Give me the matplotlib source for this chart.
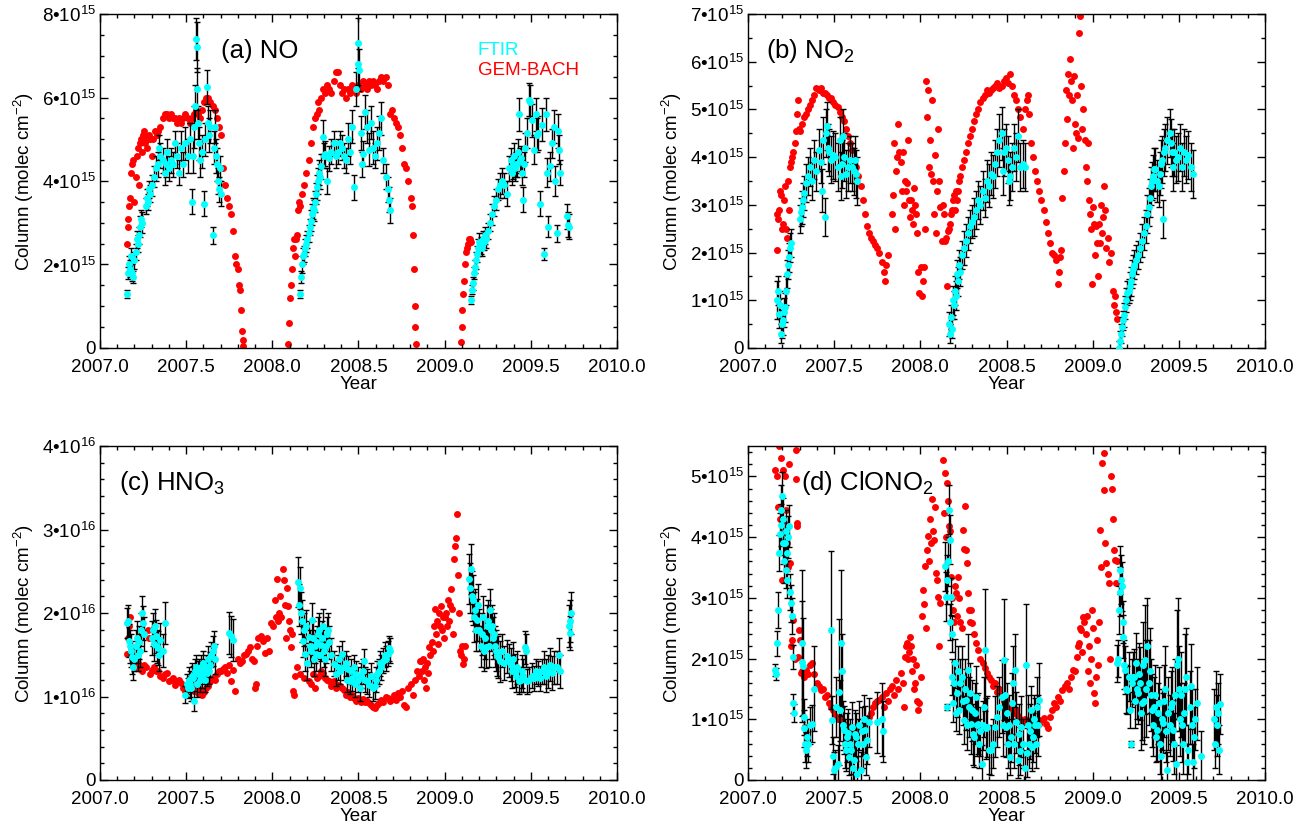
import matplotlib
matplotlib.use('Agg')
import matplotlib.pyplot as plt
from matplotlib.ticker import MultipleLocator, FuncFormatter, FormatStrFormatter

# ---------------- data (years, column values) ----------------
# (a) NO, units 1e15 molec cm-2
a_gem = [
    (2007.157, 2.5), (2007.160, 2.9), (2007.163, 3.1), (2007.169, 3.4), (2007.175, 3.6), (2007.181, 4.2),
    (2007.187, 4.4), (2007.194, 4.5), (2007.200, 3.5), (2007.206, 4.1), (2007.212, 4.6), (2007.218, 4.8),
    (2007.224, 3.9), (2007.230, 4.9), (2007.236, 5.0), (2007.242, 4.7), (2007.248, 5.1), (2007.254, 5.2),
    (2007.260, 4.9), (2007.266, 5.0), (2007.272, 4.8), (2007.278, 5.0), (2007.284, 5.1), (2007.290, 5.0),
    (2007.300, 4.6), (2007.310, 5.0), (2007.320, 5.2), (2007.330, 5.1), (2007.339, 5.2), (2007.350, 5.3),
    (2007.363, 5.5), (2007.375, 5.6), (2007.387, 5.6), (2007.399, 5.5), (2007.411, 5.6), (2007.423, 5.5),
    (2007.436, 5.5), (2007.448, 5.4), (2007.460, 5.5), (2007.472, 5.4), (2007.484, 5.5), (2007.496, 5.6),
    (2007.508, 5.5), (2007.520, 5.4), (2007.532, 5.5), (2007.544, 5.6), (2007.556, 5.7), (2007.569, 5.6),
    (2007.581, 5.5), (2007.593, 5.7), (2007.605, 5.9), (2007.617, 6.0), (2007.629, 6.0), (2007.641, 5.9),
    (2007.653, 5.8), (2007.665, 5.7), (2007.677, 5.5), (2007.690, 5.3), (2007.702, 5.1), (2007.714, 4.3),
    (2007.726, 3.9), (2007.738, 3.6), (2007.750, 3.4), (2007.762, 3.2), (2007.774, 2.8), (2007.786, 2.2),
    (2007.792, 2.0), (2007.798, 1.9), (2007.805, 1.5), (2007.811, 1.4), (2007.817, 0.9), (2007.823, 0.4),
    (2007.828, 0.2), (2007.832, 0.05),
    (2008.089, 0.1), (2008.095, 0.6), (2008.101, 1.2), (2008.107, 1.5), (2008.113, 1.9), (2008.119, 2.4),
    (2008.125, 2.6), (2008.131, 2.2), (2008.137, 2.6), (2008.143, 2.7), (2008.149, 3.3), (2008.155, 3.5),
    (2008.161, 3.4), (2008.173, 3.7), (2008.186, 3.9), (2008.198, 4.2), (2008.210, 4.5), (2008.222, 4.9),
    (2008.234, 5.3), (2008.246, 5.5), (2008.258, 5.6), (2008.264, 5.9), (2008.270, 5.7), (2008.282, 6.0),
    (2008.294, 6.2), (2008.307, 6.1), (2008.319, 6.3), (2008.331, 6.2), (2008.343, 6.1), (2008.355, 6.4),
    (2008.367, 6.6), (2008.379, 6.6), (2008.391, 6.3), (2008.403, 6.1), (2008.415, 6.2), (2008.428, 6.0),
    (2008.440, 6.2), (2008.452, 6.1), (2008.464, 6.3), (2008.476, 6.2), (2008.488, 6.1), (2008.500, 6.3),
    (2008.512, 6.2), (2008.524, 6.4), (2008.536, 6.3), (2008.549, 6.2), (2008.561, 6.4), (2008.573, 6.3),
    (2008.585, 6.4), (2008.597, 6.3), (2008.609, 6.2), (2008.621, 6.4), (2008.633, 6.5), (2008.645, 6.4),
    (2008.657, 6.5), (2008.669, 6.3), (2008.682, 5.6), (2008.694, 5.7), (2008.706, 5.5), (2008.718, 5.4),
    (2008.730, 5.3), (2008.742, 5.1), (2008.754, 4.8), (2008.766, 4.4), (2008.778, 4.3), (2008.790, 4.0),
    (2008.803, 3.6), (2008.809, 3.4), (2008.815, 2.7), (2008.820, 1.9), (2008.825, 1.0), (2008.830, 0.5),
    (2008.836, 0.1),
    (2009.093, 0.15), (2009.098, 0.5), (2009.103, 0.9), (2009.108, 1.3), (2009.113, 1.6), (2009.118, 2.0),
    (2009.123, 2.3), (2009.128, 2.4), (2009.133, 2.5), (2009.140, 2.6), (2009.146, 2.6), (2009.153, 2.55),
]
a_ftir = [
    (2007.157, 1.3, 0.1), (2007.163, 1.8, 0.15), (2007.169, 2.0, 0.2), (2007.175, 1.9, 0.2), (2007.181, 2.2, 0.2),
    (2007.187, 1.8, 0.2), (2007.194, 1.7, 0.15), (2007.200, 2.1, 0.2), (2007.206, 2.3, 0.2), (2007.212, 2.6, 0.2),
    (2007.218, 2.5, 0.2), (2007.224, 2.7, 0.2), (2007.230, 2.9, 0.25), (2007.236, 3.1, 0.2), (2007.242, 3.0, 0.25),
    (2007.266, 3.4, 0.2), (2007.272, 3.6, 0.2), (2007.278, 3.5, 0.2), (2007.284, 3.8, 0.2), (2007.290, 3.7, 0.2),
    (2007.302, 3.9, 0.25), (2007.315, 4.1, 0.25), (2007.327, 4.3, 0.3), (2007.339, 4.4, 0.3), (2007.345, 4.8, 0.3),
    (2007.351, 4.6, 0.3), (2007.363, 4.5, 0.3), (2007.375, 4.2, 0.3), (2007.381, 4.4, 0.3), (2007.387, 4.7, 0.3),
    (2007.399, 4.3, 0.3), (2007.411, 4.5, 0.3), (2007.423, 4.4, 0.3), (2007.436, 4.9, 0.3), (2007.448, 4.6, 0.3),
    (2007.460, 4.2, 0.3), (2007.472, 4.8, 0.4), (2007.484, 4.4, 0.3), (2007.496, 4.9, 0.4), (2007.508, 4.6, 0.4),
    (2007.520, 5.0, 0.4), (2007.532, 3.5, 0.3), (2007.538, 4.6, 0.4), (2007.544, 5.3, 0.5), (2007.550, 5.8, 0.5),
    (2007.556, 7.4, 0.5), (2007.560, 7.2, 0.6), (2007.564, 6.2, 0.5), (2007.569, 5.4, 0.4), (2007.575, 4.9, 0.4),
    (2007.581, 4.5, 0.4), (2007.593, 4.7, 0.4), (2007.605, 3.45, 0.3), (2007.611, 5.0, 0.4), (2007.622, 6.25, 0.4),
    (2007.629, 5.4, 0.4), (2007.635, 5.1, 0.4), (2007.641, 5.3, 0.4), (2007.653, 2.7, 0.2), (2007.659, 4.8, 0.4),
    (2007.665, 5.3, 0.4), (2007.671, 4.6, 0.4), (2007.677, 4.4, 0.4), (2007.683, 4.0, 0.3), (2007.690, 3.8, 0.3),
    (2007.696, 4.3, 0.3), (2007.702, 3.7, 0.3),
    (2008.161, 1.3, 0.1), (2008.166, 1.7, 0.15), (2008.173, 2.0, 0.2), (2008.180, 2.2, 0.2), (2008.186, 2.25, 0.2),
    (2008.192, 2.4, 0.2), (2008.198, 2.5, 0.2), (2008.204, 2.6, 0.2), (2008.210, 2.75, 0.2), (2008.216, 2.9, 0.2),
    (2008.222, 3.05, 0.25), (2008.228, 3.2, 0.25), (2008.234, 3.35, 0.25), (2008.240, 3.3, 0.25), (2008.246, 3.5, 0.25),
    (2008.252, 3.7, 0.25), (2008.258, 3.85, 0.3), (2008.264, 4.0, 0.3), (2008.270, 4.2, 0.3), (2008.276, 4.1, 0.3),
    (2008.282, 4.35, 0.3), (2008.294, 5.05, 0.4), (2008.300, 4.6, 0.3), (2008.307, 4.65, 0.3), (2008.319, 4.0, 0.3),
    (2008.331, 4.55, 0.3), (2008.343, 4.7, 0.3), (2008.355, 4.9, 0.3), (2008.367, 4.6, 0.3), (2008.379, 4.7, 0.3),
    (2008.391, 4.9, 0.3), (2008.403, 4.8, 0.3), (2008.415, 4.6, 0.3), (2008.428, 4.5, 0.3), (2008.440, 5.0, 0.4),
    (2008.452, 4.7, 0.3), (2008.464, 5.3, 0.4), (2008.476, 3.85, 0.3), (2008.488, 6.2, 0.4), (2008.495, 6.8, 0.5),
    (2008.500, 7.3, 0.6), (2008.505, 6.65, 0.5), (2008.512, 5.15, 0.4), (2008.518, 4.4, 0.3), (2008.524, 4.65, 0.3),
    (2008.536, 5.65, 0.4), (2008.549, 5.3, 0.4), (2008.561, 4.75, 0.4), (2008.573, 5.4, 0.4), (2008.585, 4.8, 0.4),
    (2008.597, 4.6, 0.3), (2008.609, 4.9, 0.4), (2008.621, 5.15, 0.4), (2008.633, 5.5, 0.4), (2008.645, 4.5, 0.3),
    (2008.657, 4.1, 0.3), (2008.669, 3.8, 0.3), (2008.676, 3.55, 0.3), (2008.682, 3.3, 0.3),
    (2009.153, 1.15, 0.1), (2009.159, 1.4, 0.1), (2009.165, 1.55, 0.15), (2009.171, 1.8, 0.15), (2009.178, 1.95, 0.15),
    (2009.184, 2.1, 0.2), (2009.190, 2.25, 0.2), (2009.196, 2.4, 0.2), (2009.202, 2.55, 0.2), (2009.208, 2.45, 0.2),
    (2009.214, 2.4, 0.2), (2009.220, 2.6, 0.2), (2009.226, 2.55, 0.2), (2009.232, 2.7, 0.2), (2009.238, 2.6, 0.2),
    (2009.250, 2.8, 0.2), (2009.262, 3.0, 0.2), (2009.274, 3.2, 0.25), (2009.286, 3.4, 0.25), (2009.299, 3.55, 0.25),
    (2009.311, 3.8, 0.25), (2009.323, 3.9, 0.3), (2009.335, 4.0, 0.3), (2009.347, 3.9, 0.3), (2009.359, 3.7, 0.3),
    (2009.371, 4.3, 0.3), (2009.383, 4.5, 0.3), (2009.389, 4.2, 0.3), (2009.395, 4.35, 0.3), (2009.401, 4.6, 0.3),
    (2009.408, 4.3, 0.3), (2009.414, 4.4, 0.3), (2009.420, 4.4, 0.3), (2009.426, 4.7, 0.3), (2009.432, 5.6, 0.4),
    (2009.438, 4.5, 0.3), (2009.444, 4.55, 0.3), (2009.450, 4.2, 0.3), (2009.456, 3.55, 0.3), (2009.462, 4.4, 0.3),
    (2009.468, 4.8, 0.35), (2009.480, 5.15, 0.35), (2009.492, 5.95, 0.4), (2009.498, 5.9, 0.4), (2009.504, 5.45, 0.4),
    (2009.516, 4.75, 0.35), (2009.528, 5.6, 0.4), (2009.534, 5.1, 0.4), (2009.540, 5.15, 0.4), (2009.553, 3.45, 0.3),
    (2009.565, 5.35, 0.4), (2009.577, 2.25, 0.15), (2009.589, 5.6, 0.4), (2009.595, 4.2, 0.35), (2009.601, 2.9, 0.25),
    (2009.613, 4.35, 0.35), (2009.625, 4.9, 0.35), (2009.637, 5.3, 0.4), (2009.643, 4.0, 0.35), (2009.649, 2.75, 0.2),
    (2009.655, 5.2, 0.4), (2009.661, 4.75, 0.35), (2009.667, 4.2, 0.3), (2009.710, 3.15, 0.3), (2009.716, 2.95, 0.3),
    (2009.722, 2.9, 0.3),
]

# (b) NO2, units 1e15 molec cm-2
b_gem = [
    (2007.166, 2.05), (2007.168, 2.8), (2007.172, 2.7), (2007.178, 2.9), (2007.184, 3.3), (2007.190, 3.2),
    (2007.196, 2.5), (2007.202, 2.6), (2007.208, 3.1), (2007.215, 3.4), (2007.221, 2.5), (2007.227, 2.3),
    (2007.233, 3.5), (2007.239, 2.9), (2007.245, 3.8), (2007.251, 3.9), (2007.257, 4.0), (2007.263, 4.1),
    (2007.270, 4.3), (2007.276, 4.55), (2007.282, 4.9), (2007.288, 5.2), (2007.294, 4.6), (2007.300, 4.55),
    (2007.312, 4.7), (2007.324, 4.85), (2007.337, 4.9), (2007.349, 5.0), (2007.361, 5.1), (2007.373, 5.2),
    (2007.385, 5.3), (2007.397, 5.45), (2007.410, 5.4), (2007.422, 5.45), (2007.434, 5.35), (2007.446, 5.35),
    (2007.459, 5.3), (2007.471, 5.25), (2007.483, 5.25), (2007.495, 5.15), (2007.507, 5.1), (2007.520, 5.05),
    (2007.532, 4.95), (2007.544, 4.85), (2007.556, 4.75), (2007.568, 4.6), (2007.580, 4.45), (2007.593, 4.3),
    (2007.605, 4.15), (2007.617, 3.95), (2007.629, 3.8), (2007.641, 3.6), (2007.654, 3.4), (2007.666, 3.1),
    (2007.678, 2.8), (2007.690, 2.55), (2007.702, 2.4), (2007.715, 2.3), (2007.727, 2.25), (2007.739, 2.15),
    (2007.751, 2.1), (2007.763, 2.0), (2007.776, 1.8), (2007.788, 1.6), (2007.794, 1.4), (2007.800, 1.75),
    (2007.812, 1.95), (2007.837, 2.8), (2007.843, 3.2), (2007.849, 4.3), (2007.855, 2.5), (2007.861, 3.7),
    (2007.867, 4.0), (2007.873, 4.7), (2007.879, 4.1), (2007.885, 3.9), (2007.891, 3.3), (2007.898, 4.1),
    (2007.904, 3.0), (2007.910, 3.5), (2007.916, 3.3), (2007.922, 3.45), (2007.928, 4.35), (2007.934, 3.1),
    (2007.940, 2.75), (2007.946, 3.1), (2007.952, 2.9), (2007.959, 2.6), (2007.965, 3.35), (2007.971, 3.0),
    (2007.977, 2.8), (2007.983, 2.4), (2007.989, 1.6), (2007.995, 1.15), (2008.001, 1.7), (2008.007, 1.1),
    (2008.013, 1.4), (2008.020, 1.7), (2008.026, 2.5), (2008.032, 5.6), (2008.038, 4.85), (2008.044, 5.4),
    (2008.050, 3.8), (2008.056, 4.35), (2008.062, 3.65), (2008.068, 5.2), (2008.074, 3.5), (2008.080, 2.8),
    (2008.087, 4.05), (2008.093, 2.4), (2008.099, 3.3), (2008.105, 4.6), (2008.111, 3.5), (2008.117, 2.95),
    (2008.123, 2.25), (2008.129, 3.0), (2008.135, 2.8), (2008.141, 2.25), (2008.147, 2.3), (2008.154, 1.3),
    (2008.160, 2.45), (2008.166, 2.5), (2008.172, 2.6), (2008.178, 2.8), (2008.184, 2.9), (2008.190, 3.1),
    (2008.196, 3.2), (2008.202, 2.9), (2008.208, 3.3), (2008.215, 3.1), (2008.221, 3.3), (2008.227, 3.5),
    (2008.233, 3.6), (2008.239, 3.8), (2008.251, 3.95), (2008.263, 4.1), (2008.276, 4.3), (2008.288, 4.45),
    (2008.300, 4.6), (2008.312, 4.75), (2008.324, 4.9), (2008.337, 5.0), (2008.349, 5.15), (2008.361, 5.25),
    (2008.373, 5.3), (2008.385, 5.4), (2008.398, 5.35), (2008.410, 5.4), (2008.422, 5.45), (2008.434, 5.5),
    (2008.446, 5.55), (2008.459, 5.45), (2008.471, 5.5), (2008.483, 5.6), (2008.495, 5.65), (2008.507, 5.55),
    (2008.520, 5.75), (2008.532, 5.5), (2008.544, 5.3), (2008.556, 5.2), (2008.568, 5.0), (2008.580, 4.85),
    (2008.593, 4.6), (2008.605, 5.0), (2008.617, 5.2), (2008.623, 5.3), (2008.629, 4.9), (2008.641, 4.3),
    (2008.654, 4.0), (2008.666, 3.7), (2008.678, 3.5), (2008.690, 3.3), (2008.702, 3.1), (2008.715, 2.9),
    (2008.727, 2.65), (2008.739, 2.4), (2008.751, 2.2), (2008.763, 2.0), (2008.776, 1.95), (2008.788, 1.85),
    (2008.800, 1.35), (2008.806, 1.6), (2008.812, 1.9), (2008.818, 2.05), (2008.824, 3.15), (2008.831, 3.7),
    (2008.837, 4.3), (2008.843, 5.4), (2008.849, 4.8), (2008.855, 5.75), (2008.861, 5.3), (2008.867, 6.05),
    (2008.873, 5.6), (2008.879, 5.2), (2008.885, 4.2), (2008.891, 5.7), (2008.898, 4.7), (2008.904, 4.5),
    (2008.910, 5.3), (2008.916, 4.4), (2008.922, 6.6), (2008.927, 6.95), (2008.934, 5.5), (2008.940, 4.6),
    (2008.946, 5.0), (2008.953, 4.35), (2008.959, 3.8), (2008.965, 3.5), (2008.971, 4.3), (2008.977, 3.1),
    (2008.983, 2.8), (2008.989, 2.5), (2008.995, 1.35), (2009.001, 2.95), (2009.007, 2.6), (2009.013, 1.95),
    (2009.020, 2.55), (2009.026, 2.2), (2009.032, 1.5), (2009.038, 2.6), (2009.044, 2.2), (2009.050, 3.0),
    (2009.056, 2.4), (2009.062, 2.75), (2009.068, 3.4), (2009.074, 2.9), (2009.080, 2.1), (2009.087, 2.3),
    (2009.093, 1.8), (2009.105, 2.0), (2009.117, 1.2), (2009.123, 0.9), (2009.129, 1.1), (2009.135, 0.75),
    (2009.141, 0.6),
]
b_ftir = [
    (2007.166, 1.0, 0.4), (2007.172, 1.2, 0.3), (2007.178, 0.72, 0.3), (2007.184, 0.9, 0.3), (2007.190, 0.3, 0.2),
    (2007.196, 0.5, 0.3), (2007.202, 0.58, 0.3), (2007.208, 0.75, 0.3), (2007.215, 0.85, 0.3), (2007.221, 1.2, 0.3),
    (2007.227, 1.55, 0.3), (2007.233, 1.75, 0.3), (2007.239, 1.9, 0.3), (2007.245, 2.1, 0.3), (2007.251, 2.2, 0.3),
    (2007.300, 2.7, 0.3), (2007.306, 2.85, 0.3), (2007.312, 2.95, 0.35), (2007.318, 3.1, 0.35), (2007.324, 3.25, 0.35),
    (2007.337, 3.45, 0.4), (2007.349, 3.6, 0.4), (2007.361, 3.8, 0.4), (2007.373, 3.5, 0.4), (2007.385, 3.95, 0.4),
    (2007.397, 3.7, 0.4), (2007.410, 4.15, 0.45), (2007.422, 3.9, 0.45), (2007.428, 3.3, 0.45), (2007.434, 4.35, 0.5),
    (2007.446, 2.75, 0.4), (2007.452, 4.5, 0.5), (2007.459, 4.65, 0.5), (2007.465, 4.2, 0.5), (2007.471, 4.1, 0.5),
    (2007.483, 3.95, 0.5), (2007.495, 4.05, 0.5), (2007.507, 4.0, 0.5), (2007.520, 3.8, 0.5), (2007.532, 4.35, 0.5),
    (2007.538, 3.6, 0.5), (2007.544, 3.85, 0.5), (2007.550, 4.45, 0.55), (2007.556, 4.0, 0.5), (2007.568, 3.65, 0.5),
    (2007.580, 3.8, 0.5), (2007.593, 3.95, 0.5), (2007.605, 3.8, 0.5), (2007.617, 3.7, 0.5), (2007.623, 3.95, 0.5),
    (2007.629, 3.65, 0.5), (2007.635, 3.5, 0.5),
    (2008.166, 0.5, 0.25), (2008.172, 0.3, 0.2), (2008.178, 0.65, 0.25), (2008.184, 0.4, 0.2), (2008.190, 1.0, 0.3),
    (2008.196, 0.9, 0.3), (2008.202, 1.2, 0.3), (2008.208, 1.1, 0.3), (2008.215, 1.55, 0.3), (2008.221, 1.4, 0.3),
    (2008.227, 1.75, 0.3), (2008.233, 1.6, 0.3), (2008.239, 1.95, 0.3), (2008.251, 2.1, 0.35), (2008.263, 2.25, 0.35),
    (2008.276, 2.4, 0.35), (2008.288, 2.55, 0.35), (2008.300, 2.65, 0.35), (2008.312, 2.75, 0.4), (2008.324, 2.9, 0.4),
    (2008.337, 3.1, 0.4), (2008.349, 3.0, 0.4), (2008.361, 3.3, 0.4), (2008.373, 3.15, 0.4), (2008.385, 3.5, 0.45),
    (2008.398, 3.4, 0.45), (2008.410, 3.65, 0.45), (2008.422, 3.6, 0.45), (2008.434, 3.85, 0.5), (2008.446, 4.1, 0.5),
    (2008.459, 4.35, 0.55), (2008.471, 4.5, 0.55), (2008.477, 3.7, 0.5), (2008.483, 4.1, 0.5), (2008.495, 4.2, 0.5),
    (2008.507, 3.95, 0.5), (2008.513, 3.5, 0.5), (2008.520, 3.6, 0.5), (2008.532, 3.8, 0.5), (2008.544, 4.2, 0.5),
    (2008.556, 4.0, 0.5), (2008.568, 4.45, 0.55), (2008.580, 3.8, 0.5), (2008.593, 3.85, 0.5), (2008.605, 3.8, 0.5),
    (2009.154, 0.0, 0.15), (2009.160, 0.15, 0.2), (2009.166, 0.3, 0.2), (2009.172, 0.45, 0.2), (2009.178, 0.58, 0.2),
    (2009.184, 0.7, 0.25), (2009.190, 0.85, 0.25), (2009.196, 1.0, 0.25), (2009.202, 1.15, 0.25), (2009.208, 1.2, 0.25),
    (2009.215, 1.3, 0.3), (2009.221, 1.4, 0.3), (2009.227, 1.55, 0.3), (2009.233, 1.65, 0.3), (2009.239, 1.75, 0.3),
    (2009.251, 1.85, 0.3), (2009.263, 1.95, 0.3), (2009.276, 2.1, 0.3), (2009.288, 2.25, 0.35), (2009.300, 2.4, 0.35),
    (2009.312, 2.55, 0.35), (2009.318, 2.8, 0.4), (2009.324, 2.95, 0.4), (2009.330, 3.15, 0.4), (2009.337, 3.4, 0.4),
    (2009.343, 3.5, 0.4), (2009.349, 3.6, 0.45), (2009.355, 3.75, 0.45), (2009.361, 3.75, 0.45), (2009.373, 3.5, 0.45),
    (2009.385, 3.4, 0.45), (2009.391, 3.65, 0.45), (2009.398, 3.85, 0.5), (2009.404, 3.95, 0.5), (2009.410, 2.7, 0.4),
    (2009.416, 4.1, 0.5), (2009.422, 4.2, 0.5), (2009.434, 4.35, 0.5), (2009.446, 4.5, 0.5), (2009.452, 4.3, 0.5),
    (2009.459, 4.1, 0.5), (2009.465, 3.8, 0.5), (2009.471, 4.1, 0.5), (2009.483, 3.95, 0.5), (2009.495, 4.0, 0.5),
    (2009.507, 4.2, 0.5), (2009.520, 3.8, 0.5), (2009.532, 4.1, 0.5), (2009.544, 3.95, 0.5), (2009.556, 4.05, 0.5),
    (2009.568, 3.8, 0.5), (2009.580, 3.65, 0.5),
]

# (c) HNO3, units 1e16 molec cm-2
c_gem = [
    (2007.157, 1.51), (2007.163, 1.7), (2007.169, 1.84), (2007.175, 1.95), (2007.181, 1.59), (2007.187, 1.45),
    (2007.194, 1.39), (2007.206, 1.35), (2007.218, 1.4), (2007.230, 1.33), (2007.242, 1.31), (2007.254, 1.38),
    (2007.266, 1.35), (2007.278, 1.8), (2007.284, 1.7), (2007.290, 1.27), (2007.302, 1.32), (2007.315, 1.35),
    (2007.327, 1.3), (2007.339, 1.3), (2007.351, 1.25), (2007.363, 1.22), (2007.375, 1.27), (2007.387, 1.28),
    (2007.399, 1.18), (2007.411, 1.2), (2007.423, 1.22), (2007.436, 1.14), (2007.448, 1.18), (2007.460, 1.2),
    (2007.472, 1.16), (2007.484, 1.1), (2007.496, 1.06), (2007.508, 1.12), (2007.520, 1.1), (2007.532, 1.08),
    (2007.544, 1.06), (2007.556, 1.1), (2007.569, 1.04), (2007.581, 1.08), (2007.593, 1.02), (2007.605, 1.05),
    (2007.617, 1.1), (2007.629, 1.12), (2007.641, 1.18), (2007.653, 1.22), (2007.665, 1.2), (2007.677, 1.27),
    (2007.690, 1.31), (2007.702, 1.3), (2007.714, 1.33), (2007.726, 1.35), (2007.738, 1.28), (2007.750, 1.38),
    (2007.762, 1.18), (2007.774, 1.32), (2007.786, 1.06), (2007.798, 1.45), (2007.811, 1.4), (2007.823, 1.43),
    (2007.835, 1.5), (2007.847, 1.51), (2007.859, 1.55), (2007.871, 1.59), (2007.883, 1.45), (2007.895, 1.42),
    (2007.901, 1.1), (2007.907, 1.15), (2007.913, 1.6), (2007.919, 1.7), (2007.932, 1.72), (2007.944, 1.67),
    (2007.956, 1.52), (2007.968, 1.7), (2007.980, 1.55), (2007.992, 1.88), (2008.004, 1.84), (2008.016, 2.16),
    (2008.022, 1.95), (2008.028, 2.41), (2008.034, 1.9), (2008.040, 2.0), (2008.046, 2.2), (2008.052, 1.95),
    (2008.059, 2.53), (2008.065, 2.4), (2008.071, 2.1), (2008.077, 1.7), (2008.083, 2.3), (2008.089, 2.08),
    (2008.095, 1.9), (2008.101, 1.8), (2008.107, 1.59), (2008.113, 1.75), (2008.119, 1.06), (2008.125, 1.02),
    (2008.131, 1.25), (2008.143, 1.35), (2008.161, 1.27), (2008.186, 1.22), (2008.210, 1.18), (2008.222, 1.15),
    (2008.234, 1.27), (2008.246, 1.1), (2008.258, 1.22), (2008.270, 1.25), (2008.282, 1.31), (2008.294, 1.28),
    (2008.307, 1.22), (2008.319, 1.2), (2008.331, 1.18), (2008.343, 1.12), (2008.355, 1.18), (2008.367, 1.1),
    (2008.379, 1.14), (2008.391, 1.12), (2008.403, 1.1), (2008.415, 1.08), (2008.428, 1.02), (2008.440, 1.05),
    (2008.452, 1.0), (2008.464, 1.02), (2008.476, 0.98), (2008.488, 0.95), (2008.500, 0.98), (2008.512, 0.94),
    (2008.524, 0.97), (2008.536, 0.94), (2008.549, 0.95), (2008.561, 0.92), (2008.573, 0.9), (2008.585, 0.88),
    (2008.597, 0.86), (2008.609, 0.9), (2008.621, 0.92), (2008.633, 0.96), (2008.645, 0.94), (2008.657, 1.0),
    (2008.669, 0.98), (2008.682, 0.95), (2008.694, 0.97), (2008.706, 1.02), (2008.718, 0.96), (2008.730, 1.04),
    (2008.742, 1.0), (2008.754, 1.06), (2008.766, 0.9), (2008.778, 0.88), (2008.790, 1.1), (2008.803, 1.15),
    (2008.815, 1.02), (2008.827, 1.2), (2008.839, 1.3), (2008.851, 1.25), (2008.857, 1.42), (2008.863, 1.43),
    (2008.869, 1.3), (2008.875, 1.45), (2008.881, 1.2), (2008.887, 1.35), (2008.893, 1.1), (2008.899, 1.4),
    (2008.905, 1.28), (2008.911, 1.59), (2008.917, 1.5), (2008.924, 1.65), (2008.930, 1.55), (2008.936, 1.84),
    (2008.942, 2.05), (2008.948, 1.75), (2008.954, 1.9), (2008.960, 1.63), (2008.966, 2.0), (2008.972, 1.85),
    (2008.978, 2.08), (2008.984, 1.8), (2008.990, 1.95), (2008.996, 1.7), (2009.002, 1.95), (2009.008, 2.0),
    (2009.014, 1.85), (2009.020, 2.16), (2009.026, 1.9), (2009.032, 2.1), (2009.038, 2.29), (2009.044, 2.05),
    (2009.050, 1.75), (2009.057, 2.65), (2009.061, 2.8), (2009.064, 2.9), (2009.069, 3.18), (2009.075, 2.45),
    (2009.081, 2.0), (2009.087, 1.55), (2009.093, 1.5), (2009.099, 1.6), (2009.105, 1.39), (2009.111, 1.45),
    (2009.117, 1.6),
]
c_ftir = [
    (2007.157, 1.88, 0.18), (2007.163, 1.9, 0.2), (2007.169, 1.67, 0.2), (2007.175, 1.6, 0.2), (2007.181, 1.55, 0.2),
    (2007.187, 1.47, 0.2), (2007.194, 1.35, 0.15), (2007.200, 1.45, 0.15), (2007.206, 1.6, 0.2), (2007.212, 1.7, 0.2),
    (2007.218, 1.5, 0.2), (2007.224, 1.65, 0.2), (2007.230, 1.55, 0.2), (2007.236, 1.8, 0.2), (2007.242, 2.0, 0.2),
    (2007.248, 1.88, 0.2), (2007.254, 1.75, 0.2), (2007.302, 1.7, 0.2), (2007.308, 1.8, 0.2), (2007.315, 1.63, 0.2),
    (2007.321, 1.85, 0.2), (2007.327, 1.72, 0.2), (2007.333, 1.6, 0.2), (2007.339, 1.58, 0.2), (2007.345, 1.5, 0.2),
    (2007.351, 1.68, 0.2), (2007.363, 1.55, 0.2), (2007.375, 1.88, 0.25),
    (2007.496, 1.02, 0.1), (2007.502, 1.15, 0.12), (2007.508, 1.1, 0.12), (2007.514, 1.2, 0.15), (2007.520, 1.15, 0.15),
    (2007.526, 1.1, 0.15), (2007.532, 1.25, 0.15), (2007.538, 1.22, 0.15), (2007.544, 0.95, 0.12), (2007.550, 1.3, 0.15),
    (2007.556, 1.35, 0.15), (2007.562, 1.15, 0.15), (2007.569, 1.27, 0.15), (2007.575, 1.3, 0.15), (2007.581, 1.2, 0.15),
    (2007.587, 1.35, 0.15), (2007.593, 1.25, 0.15), (2007.599, 1.4, 0.15), (2007.605, 1.3, 0.15), (2007.611, 1.2, 0.15),
    (2007.617, 1.35, 0.15), (2007.623, 1.28, 0.15), (2007.629, 1.45, 0.15), (2007.635, 1.3, 0.15), (2007.641, 1.38, 0.15),
    (2007.647, 1.5, 0.15), (2007.653, 1.55, 0.18), (2007.659, 1.6, 0.18), (2007.665, 1.45, 0.18),
    (2007.750, 1.76, 0.25), (2007.762, 1.72, 0.25), (2007.774, 1.68, 0.25),
    (2008.149, 2.37, 0.3), (2008.155, 2.1, 0.25), (2008.161, 2.3, 0.25), (2008.167, 2.0, 0.25), (2008.173, 1.9, 0.25),
    (2008.180, 1.67, 0.2), (2008.186, 1.8, 0.2), (2008.192, 1.51, 0.2), (2008.198, 1.84, 0.2), (2008.204, 1.4, 0.2),
    (2008.210, 1.71, 0.2), (2008.216, 1.6, 0.2), (2008.222, 1.55, 0.2), (2008.228, 1.92, 0.2), (2008.234, 1.7, 0.2),
    (2008.240, 1.45, 0.2), (2008.246, 1.6, 0.2), (2008.252, 1.51, 0.2), (2008.258, 1.65, 0.2), (2008.264, 1.75, 0.2),
    (2008.270, 1.8, 0.2), (2008.276, 1.5, 0.2), (2008.282, 1.62, 0.2), (2008.288, 1.7, 0.2), (2008.294, 1.85, 0.2),
    (2008.300, 1.55, 0.2), (2008.307, 1.45, 0.2), (2008.313, 1.6, 0.2), (2008.319, 1.75, 0.2), (2008.325, 1.8, 0.2),
    (2008.331, 1.65, 0.2), (2008.343, 1.5, 0.2), (2008.355, 1.39, 0.15), (2008.367, 1.27, 0.15), (2008.379, 1.35, 0.15),
    (2008.385, 1.45, 0.15), (2008.391, 1.3, 0.15), (2008.403, 1.51, 0.15), (2008.415, 1.35, 0.15), (2008.428, 1.4, 0.15),
    (2008.434, 1.2, 0.15), (2008.440, 1.33, 0.15), (2008.452, 1.18, 0.15), (2008.458, 1.3, 0.15), (2008.464, 1.22, 0.15),
    (2008.476, 1.35, 0.15), (2008.482, 1.15, 0.15), (2008.488, 1.27, 0.15), (2008.500, 1.2, 0.15), (2008.506, 1.1, 0.15),
    (2008.512, 1.25, 0.15), (2008.524, 1.3, 0.15), (2008.530, 1.42, 0.15), (2008.536, 1.2, 0.15), (2008.549, 1.18, 0.15),
    (2008.561, 1.14, 0.15), (2008.573, 1.25, 0.15), (2008.585, 1.1, 0.15), (2008.597, 1.12, 0.15), (2008.603, 1.2, 0.15),
    (2008.609, 1.27, 0.15), (2008.621, 1.3, 0.15), (2008.627, 1.4, 0.15), (2008.633, 1.35, 0.15), (2008.645, 1.43, 0.15),
    (2008.651, 1.5, 0.15), (2008.657, 1.45, 0.15), (2008.669, 1.51, 0.15), (2008.675, 1.58, 0.15), (2008.682, 1.55, 0.15),
    (2009.141, 2.41, 0.3), (2009.147, 2.3, 0.3), (2009.153, 2.53, 0.3), (2009.159, 2.2, 0.3), (2009.165, 2.16, 0.3),
    (2009.171, 1.95, 0.3), (2009.178, 2.04, 0.25), (2009.184, 1.8, 0.25), (2009.190, 1.92, 0.25), (2009.196, 2.1, 0.25),
    (2009.202, 1.8, 0.25), (2009.208, 1.6, 0.25), (2009.214, 1.75, 0.25), (2009.220, 1.95, 0.25), (2009.226, 1.55, 0.25),
    (2009.232, 1.7, 0.25), (2009.238, 1.59, 0.25), (2009.244, 1.85, 0.25), (2009.250, 1.9, 0.25), (2009.256, 1.6, 0.25),
    (2009.262, 2.04, 0.25), (2009.268, 1.8, 0.25), (2009.274, 1.85, 0.25), (2009.280, 1.7, 0.25), (2009.286, 1.75, 0.25),
    (2009.292, 1.6, 0.25), (2009.299, 1.55, 0.25), (2009.305, 1.5, 0.25), (2009.311, 1.47, 0.25), (2009.323, 1.42, 0.25),
    (2009.335, 1.55, 0.2), (2009.347, 1.4, 0.2), (2009.359, 1.48, 0.2), (2009.371, 1.43, 0.2), (2009.383, 1.38, 0.2),
    (2009.389, 1.3, 0.2), (2009.395, 1.45, 0.2), (2009.408, 1.31, 0.2), (2009.414, 1.25, 0.2), (2009.420, 1.35, 0.2),
    (2009.432, 1.18, 0.15), (2009.444, 1.2, 0.15), (2009.450, 1.3, 0.2), (2009.456, 1.25, 0.2), (2009.468, 1.59, 0.2),
    (2009.474, 1.55, 0.2), (2009.480, 1.18, 0.15), (2009.492, 1.2, 0.15), (2009.504, 1.25, 0.15), (2009.516, 1.22, 0.15),
    (2009.528, 1.3, 0.15), (2009.540, 1.27, 0.15), (2009.553, 1.22, 0.15), (2009.565, 1.3, 0.15), (2009.577, 1.35, 0.2),
    (2009.589, 1.25, 0.2), (2009.601, 1.3, 0.2), (2009.613, 1.38, 0.2), (2009.625, 1.28, 0.2), (2009.637, 1.35, 0.2),
    (2009.649, 1.35, 0.2), (2009.661, 1.5, 0.2), (2009.667, 1.3, 0.2), (2009.722, 1.84, 0.25), (2009.728, 1.9, 0.25),
    (2009.734, 2.0, 0.25), (2009.728, 1.76, 0.2),
]

# (d) ClONO2, units 1e15 molec cm-2
d_gem = [
    (2007.154, 5.1), (2007.166, 5.0), (2007.172, 4.5), (2007.178, 5.5), (2007.184, 4.3), (2007.190, 5.3),
    (2007.196, 3.3), (2007.202, 5.1), (2007.208, 4.23), (2007.215, 5.0), (2007.222, 4.45), (2007.227, 3.9),
    (2007.233, 3.5), (2007.239, 5.2), (2007.245, 3.57), (2007.251, 2.2), (2007.257, 2.3), (2007.263, 2.64),
    (2007.270, 2.0), (2007.276, 5.44), (2007.279, 4.95), (2007.282, 4.18), (2007.285, 4.23), (2007.288, 2.03),
    (2007.294, 2.47), (2007.300, 2.3), (2007.306, 1.76), (2007.312, 1.8), (2007.324, 1.7), (2007.337, 1.81),
    (2007.349, 1.75), (2007.361, 1.9), (2007.373, 1.92), (2007.385, 1.75), (2007.398, 1.59), (2007.410, 1.55),
    (2007.422, 1.48), (2007.434, 1.5), (2007.446, 1.37), (2007.459, 1.4), (2007.471, 1.26), (2007.483, 1.2),
    (2007.495, 1.15), (2007.507, 1.05), (2007.520, 1.0), (2007.532, 1.04), (2007.544, 0.98), (2007.556, 0.93),
    (2007.568, 0.9), (2007.580, 0.88), (2007.593, 0.82), (2007.605, 0.85), (2007.617, 0.82), (2007.629, 0.8),
    (2007.641, 0.85), (2007.654, 0.88), (2007.666, 0.9), (2007.678, 0.95), (2007.690, 1.0), (2007.702, 1.04),
    (2007.715, 1.1), (2007.727, 1.2), (2007.739, 1.26), (2007.751, 1.3), (2007.763, 1.32), (2007.776, 1.37),
    (2007.788, 1.2), (2007.800, 1.43), (2007.812, 1.3), (2007.824, 1.5), (2007.837, 1.54), (2007.849, 1.4),
    (2007.861, 1.65), (2007.873, 1.5), (2007.885, 1.76), (2007.898, 1.6), (2007.904, 1.2), (2007.910, 2.03),
    (2007.916, 2.2), (2007.922, 2.25), (2007.928, 2.0), (2007.934, 2.1), (2007.940, 2.36), (2007.946, 2.2),
    (2007.952, 1.8), (2007.959, 2.0), (2007.965, 1.5), (2007.971, 1.6), (2007.977, 1.9), (2007.983, 1.3),
    (2007.989, 1.15), (2007.995, 1.26), (2008.001, 1.7), (2008.007, 2.7), (2008.013, 3.13), (2008.020, 2.9),
    (2008.026, 3.52), (2008.032, 2.5), (2008.038, 3.79), (2008.044, 4.01), (2008.050, 3.6), (2008.056, 4.29),
    (2008.062, 3.9), (2008.068, 4.62), (2008.074, 4.1), (2008.080, 3.96), (2008.087, 4.5), (2008.093, 3.41),
    (2008.099, 3.3), (2008.105, 3.02), (2008.111, 2.2), (2008.117, 2.91), (2008.129, 5.27), (2008.135, 4.4),
    (2008.141, 5.05), (2008.147, 4.0), (2008.154, 4.89), (2008.160, 4.6), (2008.166, 4.18), (2008.172, 4.1),
    (2008.178, 3.35), (2008.184, 3.0), (2008.190, 2.8), (2008.196, 2.6), (2008.202, 3.2), (2008.208, 3.08),
    (2008.215, 2.7), (2008.221, 3.35), (2008.227, 3.0), (2008.233, 2.6), (2008.239, 2.5), (2008.245, 4.12),
    (2008.251, 3.8), (2008.257, 4.51), (2008.263, 3.79), (2008.270, 3.57), (2008.276, 3.08), (2008.282, 2.8),
    (2008.288, 2.6), (2008.294, 2.8), (2008.300, 2.58), (2008.312, 2.4), (2008.324, 2.25), (2008.337, 2.14),
    (2008.349, 2.0), (2008.361, 1.92), (2008.373, 1.85), (2008.385, 1.76), (2008.398, 1.7), (2008.410, 1.65),
    (2008.422, 1.55), (2008.434, 1.6), (2008.446, 1.45), (2008.459, 1.5), (2008.471, 1.4), (2008.483, 1.3),
    (2008.495, 1.35), (2008.507, 1.25), (2008.520, 1.2), (2008.532, 1.15), (2008.544, 1.1), (2008.556, 1.15),
    (2008.568, 1.05), (2008.580, 1.0), (2008.593, 0.95), (2008.605, 1.0), (2008.617, 0.98), (2008.629, 0.9),
    (2008.641, 0.95), (2008.654, 0.92), (2008.666, 0.9), (2008.678, 0.95), (2008.690, 0.93), (2008.702, 0.98),
    (2008.715, 1.02), (2008.727, 0.93), (2008.739, 0.85), (2008.751, 1.04), (2008.763, 1.15), (2008.776, 1.26),
    (2008.788, 1.2), (2008.800, 1.37), (2008.812, 1.3), (2008.824, 1.48), (2008.837, 1.55), (2008.849, 1.59),
    (2008.861, 1.5), (2008.873, 1.7), (2008.885, 1.81), (2008.898, 1.8), (2008.910, 2.03), (2008.916, 2.2),
    (2008.922, 2.25), (2008.928, 2.5), (2008.934, 2.47), (2008.940, 2.1), (2008.946, 2.69), (2008.952, 2.6),
    (2008.959, 2.4), (2008.965, 2.7), (2008.971, 1.8), (2008.977, 2.2), (2008.983, 1.6), (2008.989, 2.0),
    (2008.995, 2.8), (2009.001, 2.5), (2009.007, 1.43), (2009.013, 1.26), (2009.020, 1.7), (2009.026, 2.3),
    (2009.032, 1.9), (2009.038, 2.6), (2009.044, 4.12), (2009.050, 3.5), (2009.056, 5.22), (2009.063, 5.38),
    (2009.068, 4.78), (2009.074, 3.9), (2009.080, 3.57), (2009.087, 3.4), (2009.093, 3.24), (2009.099, 2.0),
    (2009.105, 5.0), (2009.111, 4.8), (2009.117, 4.29), (2009.123, 3.79), (2009.129, 3.63), (2009.135, 3.24),
    (2009.141, 3.6),
]
d_ftir = [
    (2007.154, 1.81, 0.1), (2007.160, 1.75, 0.1), (2007.166, 2.25, 0.2), (2007.173, 2.8, 0.3), (2007.178, 3.74, 0.3),
    (2007.184, 4.05, 0.35), (2007.190, 4.45, 0.4), (2007.194, 4.2, 0.35), (2007.198, 4.67, 0.4), (2007.202, 3.9, 0.35),
    (2007.205, 4.29, 0.35), (2007.210, 3.6, 0.35), (2007.215, 3.9, 0.3), (2007.218, 4.1, 0.35), (2007.222, 3.46, 0.3),
    (2007.226, 3.3, 0.3), (2007.229, 3.74, 0.3), (2007.234, 4.0, 0.35), (2007.239, 4.18, 0.35), (2007.245, 3.1, 0.3),
    (2007.251, 2.91, 0.3), (2007.255, 2.7, 0.3), (2007.259, 2.03, 0.2), (2007.263, 1.26, 0.15), (2007.265, 1.1, 0.15),
    (2007.312, 2.25, 1.2), (2007.316, 1.95, 1.0), (2007.320, 1.87, 0.8), (2007.324, 1.04, 0.3), (2007.327, 0.85, 0.3),
    (2007.331, 0.6, 0.3), (2007.337, 0.49, 0.3), (2007.343, 0.7, 0.3), (2007.349, 0.6, 0.3), (2007.361, 0.9, 0.3),
    (2007.373, 0.93, 0.3), (2007.385, 1.5, 0.7),
    (2007.483, 2.47, 1.3), (2007.490, 0.99, 0.4), (2007.495, 0.4, 0.3), (2007.500, 0.16, 0.3), (2007.507, 0.2, 0.3),
    (2007.513, 1.2, 0.5), (2007.520, 0.27, 0.3), (2007.526, 1.45, 1.2), (2007.532, 1.15, 0.5), (2007.538, 2.25, 1.2),
    (2007.544, 1.8, 0.6), (2007.550, 0.9, 0.4), (2007.556, 0.82, 0.4), (2007.562, 0.6, 0.4), (2007.568, 0.49, 0.35),
    (2007.574, 0.7, 0.4), (2007.580, 0.77, 0.4), (2007.587, 0.38, 0.3), (2007.593, 0.6, 0.4), (2007.599, 0.5, 0.4),
    (2007.605, 0.88, 0.4), (2007.611, 0.2, 0.3), (2007.617, 0.33, 0.35), (2007.623, 0.75, 0.4), (2007.629, 0.71, 0.4),
    (2007.635, 0.1, 0.3), (2007.641, 0.6, 0.4), (2007.647, 0.9, 0.4), (2007.654, 0.16, 0.3), (2007.660, 0.8, 0.4),
    (2007.666, 0.6, 0.4), (2007.672, 1.0, 0.4), (2007.678, 0.82, 0.4), (2007.684, 0.38, 0.3), (2007.690, 0.66, 0.4),
    (2007.702, 0.95, 0.4), (2007.751, 0.95, 0.5), (2007.776, 1.0, 0.6), (2007.782, 0.8, 0.5),
    (2008.141, 3.52, 0.4), (2008.147, 3.02, 0.4), (2008.153, 1.2, 0.05), (2008.154, 3.3, 0.4), (2008.160, 3.6, 0.4),
    (2008.166, 4.45, 0.4), (2008.171, 3.96, 0.4), (2008.174, 2.6, 0.3), (2008.178, 3.02, 0.3), (2008.182, 2.4, 0.3),
    (2008.185, 1.7, 0.3), (2008.190, 1.26, 0.3), (2008.196, 1.6, 0.35), (2008.202, 1.92, 0.4), (2008.208, 1.1, 0.3),
    (2008.215, 1.43, 0.4), (2008.221, 1.8, 0.4), (2008.227, 1.15, 0.4), (2008.233, 1.6, 0.4), (2008.239, 1.7, 0.5),
    (2008.245, 1.3, 0.4), (2008.251, 0.99, 0.4), (2008.257, 1.5, 0.5), (2008.263, 1.32, 0.5), (2008.269, 0.9, 0.4),
    (2008.276, 1.81, 0.6), (2008.282, 1.2, 0.5), (2008.288, 1.43, 0.5), (2008.294, 0.93, 0.5), (2008.300, 1.15, 0.5),
    (2008.306, 0.75, 0.5), (2008.312, 0.71, 0.5), (2008.318, 1.1, 0.5), (2008.324, 1.37, 0.5), (2008.330, 0.9, 0.5),
    (2008.337, 0.93, 0.5), (2008.343, 0.6, 0.4), (2008.349, 0.8, 0.4), (2008.355, 0.27, 0.3), (2008.361, 0.9, 0.4),
    (2008.367, 1.2, 0.5), (2008.373, 2.14, 1.0), (2008.379, 0.85, 0.5), (2008.385, 0.88, 0.5), (2008.398, 0.5, 0.4),
    (2008.410, 0.49, 0.4), (2008.422, 0.6, 0.4), (2008.434, 0.88, 0.5), (2008.446, 1.04, 0.5), (2008.459, 1.2, 0.5),
    (2008.471, 1.37, 0.6), (2008.477, 0.9, 0.5), (2008.483, 1.98, 1.0), (2008.489, 1.4, 0.6), (2008.495, 0.88, 0.5),
    (2008.501, 1.1, 0.5), (2008.507, 0.6, 0.4), (2008.513, 0.9, 0.5), (2008.520, 0.38, 0.3), (2008.526, 0.7, 0.4),
    (2008.532, 1.26, 0.5), (2008.538, 1.6, 0.6), (2008.544, 0.6, 0.4), (2008.550, 1.81, 0.6), (2008.556, 0.95, 0.5),
    (2008.568, 0.33, 0.3), (2008.574, 0.75, 0.5), (2008.580, 0.48, 0.4), (2008.587, 0.88, 0.5), (2008.593, 0.6, 0.4),
    (2008.605, 0.2, 0.3), (2008.611, 1.9, 1.0), (2008.617, 0.45, 0.4), (2008.623, 0.9, 0.5), (2008.629, 0.6, 0.4),
    (2008.635, 0.8, 0.45), (2008.641, 1.15, 0.4), (2008.647, 0.55, 0.4), (2008.654, 0.7, 0.4), (2008.660, 1.0, 0.4),
    (2008.666, 0.9, 0.45), (2008.672, 0.6, 0.4), (2008.678, 1.2, 0.5), (2008.684, 0.9, 0.5), (2008.690, 1.32, 0.6),
    (2009.141, 1.92, 0.3), (2009.147, 2.0, 0.3), (2009.154, 2.8, 0.4), (2009.158, 3.1, 0.4), (2009.161, 3.46, 0.4),
    (2009.166, 3.3, 0.4), (2009.171, 3.19, 0.4), (2009.174, 2.6, 0.35), (2009.178, 2.36, 0.35), (2009.184, 1.9, 0.4),
    (2009.190, 1.81, 0.4), (2009.196, 1.5, 0.4), (2009.202, 1.48, 0.4), (2009.208, 1.7, 0.4), (2009.215, 1.15, 0.3),
    (2009.222, 0.6, 0.05), (2009.227, 1.6, 0.4), (2009.233, 1.7, 0.4), (2009.239, 1.7, 0.45), (2009.245, 1.3, 0.45),
    (2009.251, 1.92, 0.5), (2009.257, 1.5, 0.5), (2009.263, 1.43, 0.5), (2009.269, 1.75, 0.5), (2009.276, 1.59, 0.6),
    (2009.282, 1.1, 0.6), (2009.288, 1.26, 0.6), (2009.294, 1.9, 0.7), (2009.300, 1.3, 0.7), (2009.306, 1.98, 0.9),
    (2009.312, 1.5, 0.8), (2009.318, 2.2, 0.8), (2009.324, 1.6, 0.7), (2009.330, 1.8, 0.7), (2009.337, 1.4, 0.6),
    (2009.343, 1.15, 0.6), (2009.349, 0.9, 0.5), (2009.355, 1.2, 0.5), (2009.361, 1.4, 0.5), (2009.367, 0.7, 0.4),
    (2009.373, 0.82, 0.5), (2009.379, 1.1, 0.5), (2009.385, 1.26, 0.6), (2009.391, 0.6, 0.5), (2009.398, 0.4, 0.4),
    (2009.404, 1.0, 0.5), (2009.410, 0.94, 0.5), (2009.416, 1.3, 0.6), (2009.422, 1.5, 0.7), (2009.428, 0.8, 0.5),
    (2009.434, 0.16, 0.3), (2009.440, 1.1, 0.6), (2009.446, 0.9, 0.5), (2009.452, 1.2, 0.6), (2009.459, 1.26, 0.6),
    (2009.465, 0.82, 0.5), (2009.471, 0.6, 0.5), (2009.477, 1.4, 0.6), (2009.483, 0.27, 0.3), (2009.489, 1.9, 0.9),
    (2009.495, 2.0, 1.0), (2009.501, 1.5, 0.7), (2009.507, 1.0, 0.6), (2009.513, 1.4, 0.7), (2009.520, 0.9, 0.6),
    (2009.526, 0.6, 0.5), (2009.532, 1.1, 0.5), (2009.538, 1.5, 0.9), (2009.544, 1.7, 0.8), (2009.550, 0.3, 0.3),
    (2009.556, 0.5, 0.4), (2009.562, 1.2, 0.6), (2009.568, 1.54, 0.7), (2009.574, 0.9, 0.6), (2009.580, 0.3, 0.3),
    (2009.587, 0.7, 0.5), (2009.593, 1.0, 0.5), (2009.605, 1.26, 0.6), (2009.629, 0.4, 0.4), (2009.702, 1.0, 0.5),
    (2009.708, 0.6, 0.4), (2009.715, 1.2, 0.6), (2009.721, 0.9, 0.5), (2009.727, 1.1, 0.5), (2009.733, 0.5, 0.4),
    (2009.739, 1.25, 0.5),
]

panel_titles = ['(a) NO', '(b) NO$_2$', '(c) HNO$_3$', '(d) ClONO$_2$']
legend_labels = ['FTIR', 'GEM-BACH']
x_label = 'Year'
y_label = 'Column (molec cm$^{-2}$)'

# ---------------- style ----------------
plt.rcParams['font.family'] = ['Liberation Sans', 'DejaVu Sans']
plt.rcParams['mathtext.fontset'] = 'custom'
plt.rcParams['mathtext.rm'] = 'Liberation Sans'
plt.rcParams['mathtext.it'] = 'Liberation Sans:italic'
plt.rcParams['mathtext.bf'] = 'Liberation Sans:bold'
plt.rcParams['mathtext.default'] = 'regular'

RED = '#ff0000'
CYAN = '#00ffff'
FS = 13.5

fig = plt.figure(figsize=(13.06, 8.31), dpi=100)
W, H = 1306.0, 831.0


def add_axes(left, top, right, bottom):
    return fig.add_axes([left / W, 1 - bottom / H, (right - left) / W, (bottom - top) / H])


ax_a = add_axes(100, 14, 617, 348)
ax_b = add_axes(748, 14, 1265, 348)
ax_c = add_axes(100, 446, 617, 780)
ax_d = add_axes(748, 446, 1265, 780)


def make_fmt(exp):
    def f(v, pos):
        if abs(v) < 1e-9:
            return '0'
        return '%g\u2022' % v + '10$^{%d}$' % exp
    return FuncFormatter(f)


def draw(ax, gem, ftir, ymax, major, minor, exp, title, tx):
    gy = [p[0] for p in gem]
    gv = [p[1] for p in gem]
    fy = [p[0] for p in ftir]
    fv = [p[1] for p in ftir]
    fe = [p[2] for p in ftir]
    ax.plot(gy, gv, 'o', color=RED, ms=5, mec='none', zorder=1)
    ax.errorbar(fy, fv, yerr=fe, fmt='none', ecolor='black', elinewidth=1.0,
                capsize=2.0, capthick=1.0, zorder=2)
    ax.plot(fy, fv, 's', color='black', ms=2.5, mec='none', zorder=2.5)
    ax.plot(fy, fv, 'o', color=CYAN, ms=5, mec='none', zorder=3)
    ax.set_xlim(2007.0, 2010.0)
    ax.set_ylim(0, ymax)
    ax.xaxis.set_major_locator(MultipleLocator(0.5))
    ax.xaxis.set_minor_locator(MultipleLocator(0.1))
    ax.xaxis.set_major_formatter(FormatStrFormatter('%.1f'))
    ax.yaxis.set_major_locator(MultipleLocator(major))
    ax.yaxis.set_minor_locator(MultipleLocator(minor))
    ax.yaxis.set_major_formatter(make_fmt(exp))
    ax.tick_params(which='both', direction='in', top=True, right=True, labelsize=FS)
    ax.tick_params(which='major', length=6, width=1.0)
    ax.tick_params(which='minor', length=3, width=1.0)
    ax.tick_params(axis='x', pad=8)
    ax.tick_params(axis='y', pad=3)
    for s in ax.spines.values():
        s.set_linewidth(1.0)
    ax.set_xlabel(x_label, fontsize=FS, labelpad=0)
    ax.set_ylabel(y_label, fontsize=FS, labelpad=4)
    ax.text(tx, 0.89, title, transform=ax.transAxes, fontsize=18.5, ha='left', va='center')


draw(ax_a, a_gem, a_ftir, 8, 2, 0.5, 15, panel_titles[0], 0.234)
draw(ax_b, b_gem, b_ftir, 7, 1, 0.5, 15, panel_titles[1], 0.035)
draw(ax_c, c_gem, c_ftir, 4, 1, 0.2, 16, panel_titles[2], 0.036)
draw(ax_d, d_gem, d_ftir, 5.5, 1, 0.2, 15, panel_titles[3], 0.102)

ax_a.text(0.731, 0.892, legend_labels[0], transform=ax_a.transAxes, color=CYAN,
          fontsize=13.5, ha='left', va='center')
ax_a.text(0.731, 0.832, legend_labels[1], transform=ax_a.transAxes, color=RED,
          fontsize=13.5, ha='left', va='center')

fig.savefig('out.png', dpi=100)
